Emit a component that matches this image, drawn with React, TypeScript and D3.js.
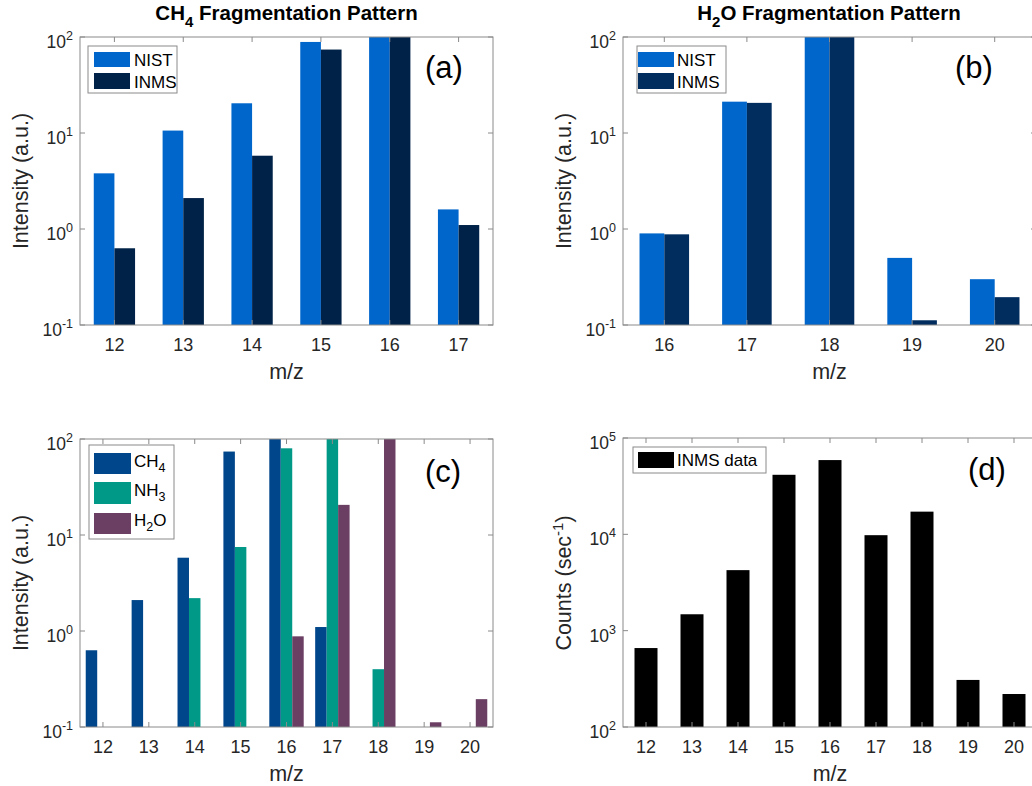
import React from "react";
import * as d3 from "d3";

// ---------- data ----------
const mzA = [12, 13, 14, 15, 16, 17];
const nistCH4 = [3.8, 10.6, 20.4, 88.8, 100, 1.6];
const inmsCH4 = [0.63, 2.1, 5.8, 74, 100, 1.1];

const mzB = [16, 17, 18, 19, 20];
const nistH2O = [0.9, 21.2, 100, 0.5, 0.3];
const inmsH2O = [0.88, 20.6, 100, 0.112, 0.195];

const mzC = [12, 13, 14, 15, 16, 17, 18, 19, 20];
const ch4C: (number | null)[] = [0.63, 2.1, 5.8, 74, 100, 1.1, null, null, null];
const nh3C: (number | null)[] = [null, null, 2.2, 7.5, 80, 100, 0.4, null, null];
const h2oC: (number | null)[] = [null, null, null, null, 0.88, 20.6, 100, 0.112, 0.195];

const mzD = [12, 13, 14, 15, 16, 17, 18, 19, 20];
const countsD = [660, 1480, 4250, 41500, 59000, 9800, 17200, 308, 220];

const expsIntensity = [-1, 0, 1, 2];
const expsCounts = [2, 3, 4, 5];

const FONT = "'Liberation Sans', Arial, Helvetica, sans-serif";
const TXT = "#262626";
const AX = "#8a8a8a";

type Series = { values: (number | null)[]; color: string; offset: number; width: number };

function Panel(props: {
  x0: number; x1: number; y0: number; y1: number;
  xDomain: [number, number]; xTicks: number[];
  yDomain: [number, number]; yExps: number[];
  series: Series[];
}) {
  const { x0, x1, y0, y1, xDomain, xTicks, yDomain, yExps, series } = props;
  const x = d3.scaleLinear().domain(xDomain).range([x0, x1]);
  const y = d3.scaleLog().domain(yDomain).range([y1, y0]);
  const tl = 5;
  return (
    <g>
      {series.map((s, si) =>
        s.values.map((v, i) => {
          if (v == null) return null;
          const c = xTicks[i] + s.offset;
          const xa = x(c - s.width / 2);
          const xb = x(c + s.width / 2);
          const yt = y(Math.min(v, yDomain[1]));
          return (
            <rect key={`${si}-${i}`} x={xa} y={yt} width={xb - xa} height={y1 - yt}
              fill={s.color} />
          );
        })
      )}
      <rect x={x0} y={y0} width={x1 - x0} height={y1 - y0} fill="none" stroke={AX} strokeWidth={1} />
      {xTicks.map((t) => (
        <g key={"xt" + t}>
          <line x1={x(t)} x2={x(t)} y1={y1} y2={y1 - tl} stroke={AX} />
          <line x1={x(t)} x2={x(t)} y1={y0} y2={y0 + tl} stroke={AX} />
          <text x={x(t)} y={y1 + 26} textAnchor="middle" fontSize={18} fill={TXT} fontFamily={FONT}>{t}</text>
        </g>
      ))}
      {yExps.map((e) => {
        const yy = y(Math.pow(10, e));
        return (
          <g key={"yt" + e}>
            <line x1={x0} x2={x0 + tl} y1={yy} y2={yy} stroke={AX} />
            <line x1={x1} x2={x1 - tl} y1={yy} y2={yy} stroke={AX} />
            <text x={x0 - 7} y={yy + 11} textAnchor="end" fontSize={17.5} fill={TXT} fontFamily={FONT}>
              10<tspan dy={-8} fontSize={12.5}>{e}</tspan>
            </text>
          </g>
        );
      })}
      <text x={(x0 + x1) / 2} y={y1 + 54} textAnchor="middle" fontSize={21.5} fill={TXT} fontFamily={FONT}>m/z</text>
    </g>
  );
}

function LegendBox(props: { x: number; y: number; w: number; h: number }) {
  return <rect x={props.x} y={props.y} width={props.w} height={props.h} fill="#fff" stroke="#8a8a8a" strokeWidth={1} />;
}

export default function App() {
  const nist = "#0066cc";
  const inmsA = "#002248";
  const inmsB = "#002d5e";
  const cCH4 = "#00468a";
  const cNH3 = "#009988";
  const cH2O = "#6b3f63";
  return (
    <svg width={1032} height={786} style={{ position: "absolute", left: 0, top: 0, background: "#fff" }}
      fontFamily={FONT}>
      <rect x={0} y={0} width={1032} height={786} fill="#fff" />
      {/* Titles */}
      <text x={286.5} y={20} textAnchor="middle" fontSize={20.5} fontWeight="bold" fill="#000">
        CH<tspan dy={7} fontSize={15}>4</tspan><tspan dy={-7}> Fragmentation Pattern</tspan>
      </text>
      <text x={829} y={20} textAnchor="middle" fontSize={20.5} fontWeight="bold" fill="#000">
        H<tspan dy={7} fontSize={15}>2</tspan><tspan dy={-7}>O Fragmentation Pattern</tspan>
      </text>

      {/* Panel a */}
      <Panel x0={80} x1={493} y0={37} y1={325} xDomain={[11.5, 17.5]} xTicks={mzA}
        yDomain={[0.1, 100]} yExps={expsIntensity}
        series={[
          { values: nistCH4, color: nist, offset: -0.15, width: 0.3 },
          { values: inmsCH4, color: inmsA, offset: 0.15, width: 0.3 },
        ]} />
      {/* Panel b */}
      <Panel x0={623} x1={1036} y0={37} y1={325} xDomain={[15.5, 20.5]} xTicks={mzB}
        yDomain={[0.1, 100]} yExps={expsIntensity}
        series={[
          { values: nistH2O, color: nist, offset: -0.15, width: 0.3 },
          { values: inmsH2O, color: inmsB, offset: 0.15, width: 0.3 },
        ]} />
      {/* Panel c */}
      <Panel x0={80} x1={493} y0={439} y1={727} xDomain={[11.5, 20.5]} xTicks={mzC}
        yDomain={[0.1, 100]} yExps={expsIntensity}
        series={[
          { values: ch4C, color: cCH4, offset: -0.25, width: 0.25 },
          { values: nh3C, color: cNH3, offset: 0, width: 0.25 },
          { values: h2oC, color: cH2O, offset: 0.25, width: 0.25 },
        ]} />
      {/* Panel d */}
      <Panel x0={623} x1={1037} y0={438} y1={727} xDomain={[11.5, 20.5]} xTicks={mzD}
        yDomain={[100, 100000]} yExps={expsCounts}
        series={[{ values: countsD, color: "#000", offset: 0, width: 0.5 }]} />

      {/* Y labels */}
      <text transform="translate(28,181) rotate(-90)" textAnchor="middle" fontSize={21.5} fill={TXT}>Intensity (a.u.)</text>
      <text transform="translate(571,181) rotate(-90)" textAnchor="middle" fontSize={21.5} fill={TXT}>Intensity (a.u.)</text>
      <text transform="translate(28,583) rotate(-90)" textAnchor="middle" fontSize={21.5} fill={TXT}>Intensity (a.u.)</text>
      <text transform="translate(571,583) rotate(-90)" textAnchor="middle" fontSize={21.5} fill={TXT}>
        Counts (sec<tspan dy={-8} fontSize={15}>-1</tspan><tspan dy={8}>)</tspan>
      </text>

      {/* Legends */}
      <LegendBox x={88} y={46} w={89} h={47} />
      <rect x={94} y={52} width={36} height={15} fill={nist} />
      <rect x={94} y={73} width={36} height={16} fill={inmsA} />
      <text x={134} y={66} fontSize={17} fill="#000">NIST</text>
      <text x={134} y={88} fontSize={17} fill="#000">INMS</text>

      <LegendBox x={637} y={46} w={89} h={47} />
      <rect x={638} y={52} width={36} height={15} fill={nist} />
      <rect x={638} y={73} width={36} height={16} fill={inmsB} />
      <text x={677} y={66} fontSize={17} fill="#000">NIST</text>
      <text x={677} y={88} fontSize={17} fill="#000">INMS</text>

      <LegendBox x={89} y={445} w={85} h={94} />
      <rect x={94} y={453} width={37} height={21} fill={cCH4} />
      <rect x={94} y={482} width={37} height={22} fill={cNH3} />
      <rect x={94} y={513} width={37} height={21} fill={cH2O} />
      <text x={134} y={467} fontSize={17} fill="#000">CH<tspan dy={5} fontSize={12.5}>4</tspan></text>
      <text x={134} y={496} fontSize={17} fill="#000">NH<tspan dy={5} fontSize={12.5}>3</tspan></text>
      <text x={134} y={526} fontSize={17} fill="#000">H<tspan dy={5} fontSize={12.5}>2</tspan><tspan dy={-5}>O</tspan></text>

      <LegendBox x={633} y={447} w={133} h={26} />
      <rect x={638} y={452} width={36} height={16} fill="#000" />
      <text x={677} y={466} fontSize={17} fill="#000">INMS data</text>

      {/* Panel letters */}
      <text x={425} y={78} fontSize={31} fill="#000">(a)</text>
      <text x={955} y={78} fontSize={31} fill="#000">(b)</text>
      <text x={425} y={482} fontSize={31} fill="#000">(c)</text>
      <text x={968} y={480} fontSize={31} fill="#000">(d)</text>
    </svg>
  );
}
